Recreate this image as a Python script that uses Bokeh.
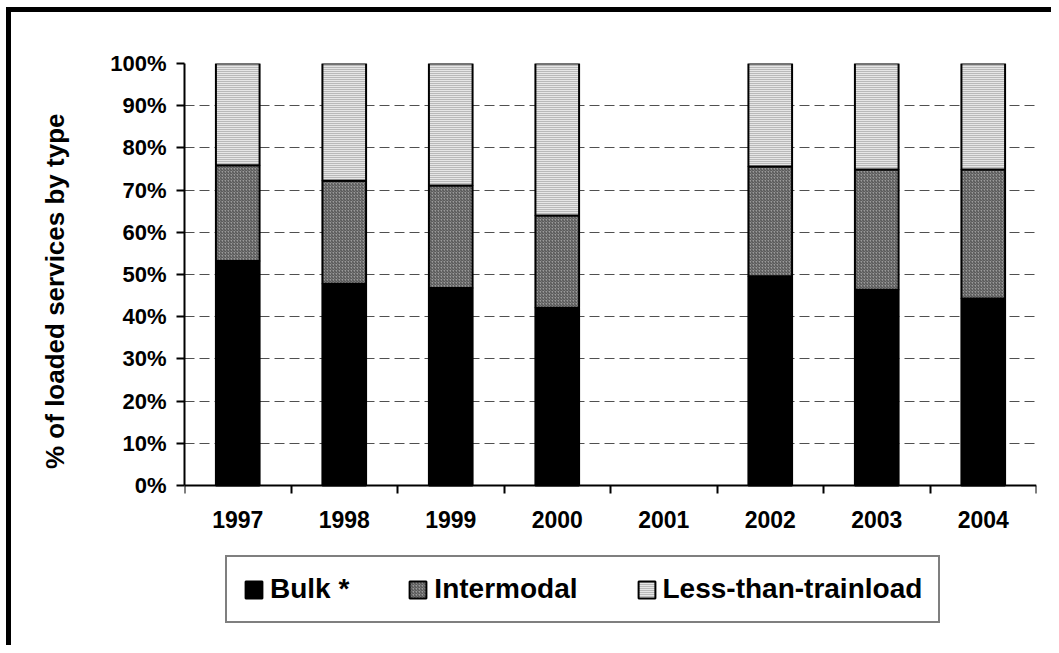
import math
from bokeh.plotting import figure
from bokeh.models import (ColumnDataSource, FixedTicker, PrintfTickFormatter,
                          Legend, LegendItem, Range1d, Title)
from bokeh.embed import file_html
from bokeh.resources import INLINE

nan = float("nan")

years = ["1997", "1998", "1999", "2000", "2001", "2002", "2003", "2004"]
bulk = [53.2, 47.8, 46.8, 42.1, nan, 49.6, 46.4, 44.3]
intermodal = [22.7, 24.4, 24.3, 21.9, nan, 26.0, 28.5, 30.6]
ltl = [24.1, 27.8, 28.9, 36.0, nan, 24.4, 25.1, 25.1]
series_labels = ["Bulk *", "Intermodal", "Less-than-trainload"]
y_ticks = [0, 10, 20, 30, 40, 50, 60, 70, 80, 90, 100]
y_title = "% of loaded services by type"

xpos = [i + 0.5 for i in range(len(years))]
bounds = list(range(len(years) + 1))

src = ColumnDataSource(dict(x=xpos, bulk=bulk, intermodal=intermodal, ltl=ltl))

FONT = "Liberation Sans"
W, H = 1051, 645
FRAME_TOP, ZERO_Y, FRAME_BOTTOM = 63, 485, 640
y_start = -100.0 * (FRAME_BOTTOM - ZERO_Y) / (ZERO_Y - FRAME_TOP)

p = figure(width=W, height=H, output_backend="svg", toolbar_location=None,
           x_range=Range1d(0, len(years)), y_range=Range1d(y_start, 100),
           min_border_left=184, min_border_right=15, min_border_top=FRAME_TOP,
           min_border_bottom=H - FRAME_BOTTOM,
           styles={"background-color": "white",
                   "box-shadow": "inset 6px 7px 0 0 white, inset 11px 12px 0 0 black"})
p.outline_line_color = None
p.background_fill_color = "white"
p.border_fill_color = None

rs = p.vbar_stack(["bulk", "intermodal", "ltl"], x="x", width=0.41, source=src,
                  fill_color=["black", "#9a9a9a", "#e6e6e6"],
                  hatch_pattern=[" ", "right_diagonal_line", "horizontal_line"],
                  hatch_color=["black", "#4a4a4a", "#8c8c8c"],
                  hatch_scale=[3, 3, 2], hatch_weight=[1, 1, 1],
                  line_color="black", line_width=2)

# y axis
p.yaxis.ticker = FixedTicker(ticks=y_ticks)
p.yaxis.bounds = (0, 100)
p.yaxis.formatter = PrintfTickFormatter(format="%d%%")
p.yaxis.axis_line_width = 2
p.yaxis.axis_line_color = "black"
p.yaxis.major_tick_line_width = 2
p.yaxis.major_tick_out = 8
p.yaxis.major_tick_in = 0
p.yaxis.minor_tick_line_color = None
p.yaxis.major_label_text_font = FONT
p.yaxis.major_label_text_font_style = "bold"
p.yaxis.major_label_text_font_size = "22px"
p.yaxis.major_label_text_color = "black"
p.yaxis.major_label_standoff = 10

# y axis title, placed alongside the 0-100% part of the axis
ytitle = Title(text=y_title, align="right", offset=50, standoff=75,
               text_font=FONT, text_font_style="bold", text_font_size="26px",
               text_color="black")
p.add_layout(ytitle, "left")

# x axis, drawn at the 0% line
p.xaxis.fixed_location = 0
p.xaxis.ticker = FixedTicker(ticks=xpos, minor_ticks=bounds)
p.xaxis.major_label_overrides = {xv: yr for xv, yr in zip(xpos, years)}
p.xaxis.axis_line_width = 2
p.xaxis.axis_line_color = "black"
p.xaxis.major_tick_line_color = None
p.xaxis.minor_tick_line_color = "black"
p.xaxis.minor_tick_line_width = 2
p.xaxis.minor_tick_out = 8
p.xaxis.minor_tick_in = 0
p.xaxis.major_label_text_font = FONT
p.xaxis.major_label_text_font_style = "bold"
p.xaxis.major_label_text_font_size = "23px"
p.xaxis.major_label_text_color = "black"
p.xaxis.major_label_standoff = 17

p.xgrid.grid_line_color = None
p.ygrid.grid_line_color = "#505050"
p.ygrid.grid_line_width = 1
p.ygrid.grid_line_dash = "10 5"

legend = Legend(items=[LegendItem(label=lab, renderers=[r]) for lab, r in zip(series_labels, rs)],
                orientation="horizontal", location=(41, FRAME_BOTTOM - 623))
legend.label_text_font = FONT
legend.label_text_font_style = "bold"
legend.label_text_font_size = "28px"
legend.label_text_color = "black"
legend.glyph_width = 21
legend.glyph_height = 21
legend.label_standoff = 6
legend.spacing = 58
legend.padding = 16
legend.margin = 0
legend.border_line_color = "black"
legend.border_line_width = 2.5
legend.background_fill_color = "white"
legend.background_fill_alpha = 1
p.add_layout(legend)

open("out.html", "w").write(file_html(p, INLINE))
